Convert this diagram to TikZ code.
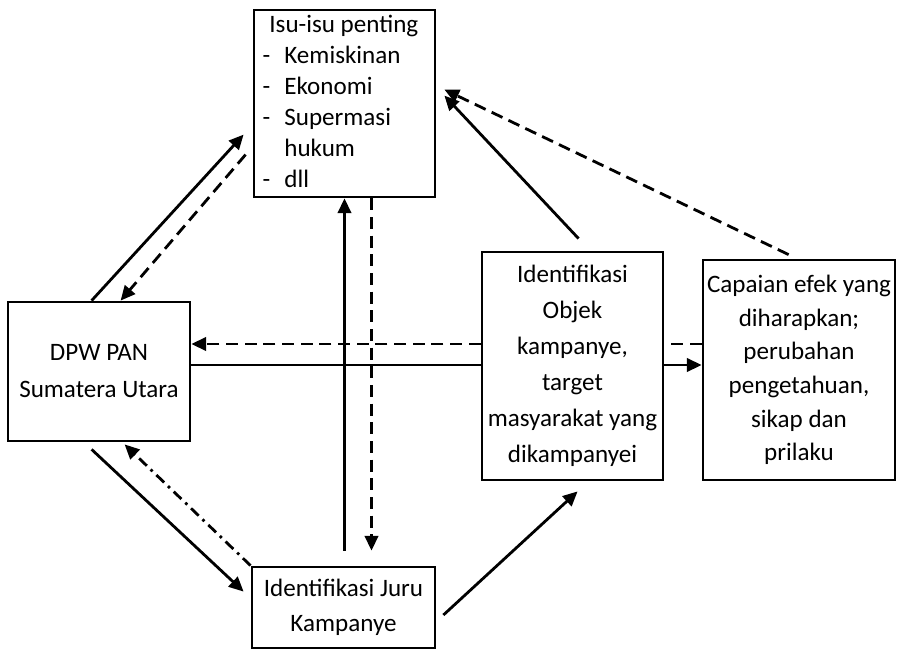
\documentclass[tikz,border=0pt]{standalone}
\usepackage{fontspec}
\setmainfont{Carlito}
\usetikzlibrary{positioning, arrows.meta, calc}
\definecolor{figink}{HTML}{000000}

\begin{document}
\begin{tikzpicture}[
  x=0.75pt, y=-0.75pt,
  line width=2.1pt, line join=miter,
  >={Triangle[length=11pt,width=10pt]},
  box/.style = {draw=figink, line width=2.1pt, fill=white, align=center,
                inner sep=0pt, anchor=center},
  txt/.style = {font=\fontsize{18.8}{#1}\selectfont},
  dsh/.style = {dash pattern=on 9pt off 5pt},
  dshdot/.style = {dash pattern=on 8pt off 4pt on 2pt off 4pt}
]
\useasboundingbox (0,0) rectangle (897,650);

\node[box, txt=23.2, minimum width=135.75pt, minimum height=140.25pt] (isu) at (344.5,103.5)
  {\begin{tabular}{@{}l@{\hspace{10.5pt}}l@{}}
   \multicolumn{2}{@{\hspace{5pt}}l@{\hspace{6pt}}}{Isu-isu penting}\\
   - & Kemiskinan\\
   - & Ekonomi\\
   - & Supermasi\\
     & hukum\\
   - & dll
   \end{tabular}};
\node[box, txt=27.75, minimum width=136.5pt, minimum height=104.25pt] (dpw) at (99,371.5)
  {DPW PAN\\Sumatera Utara};
\node[box, txt=27, minimum width=135.75pt, minimum height=171pt] (obj) at (572.5,366)
  {Identifikasi\\Objek\\kampanye,\\target\\masyarakat yang\\dikampanyei};
\node[box, txt=25.2, minimum width=144pt, minimum height=165pt] (cap) at (799,370)
  {Capaian efek yang\\diharapkan;\\perubahan\\pengetahuan,\\sikap dan\\prilaku};
\node[box, txt=26.25, minimum width=137.25pt, minimum height=60.75pt] (juru) at (343.5,607.5)
  {Identifikasi Juru\\Kampanye};

% DPW <-> isu
\draw[->] ($(dpw.north west)+(85,0)$) -- ($(isu.north west)+(-9,126)$);
\draw[->, dsh] ($(isu.north west)+(-7,146)$) -- ($(dpw.north west)+(114,0)$);

% garis mendatar lewat belakang objek
\coordinate (s1) at ($(dpw.east)+(0,-6.5)$);
\coordinate (s2) at ($(dpw.east)+(0,-27.5)$);
\draw (s1) -- (s1 -| obj.west);
\draw[->] (s1 -| obj.east) -- (s1 -| cap.west);
\draw[dsh] (s2 -| cap.west) -- (s2 -| obj.east);
\draw[->, dsh] (s2 -| obj.west) -- (s2);

% juru <-> isu
\draw[->] ($(juru.north -| isu.south)+(0,-15)$) -- (isu.south);
\draw[->, dsh] ($(isu.south)+(27,0)$) -- ($(juru.north -| isu.south)+(27,-15)$);

% DPW <-> juru
\draw[->] ($(dpw.south west)+(85,7)$) -- ($(juru.north west)+(-7,26)$);
\draw[->, dshdot] (juru.north west) -- ($(dpw.south west)+(118,2)$);

% juru -> objek, objek/capaian -> isu
\draw[->] ($(juru.east)+(7,7.5)$) -- ($(obj.south west)+(97,10)$);
\draw[->] ($(obj.north west)+(98,-12)$) -- ($(isu.north east)+(8,87)$);
\draw[->, dsh] ($(cap.north west)+(87,-4)$) -- ($(isu.north east)+(8,81)$);

\end{tikzpicture}
\end{document}
